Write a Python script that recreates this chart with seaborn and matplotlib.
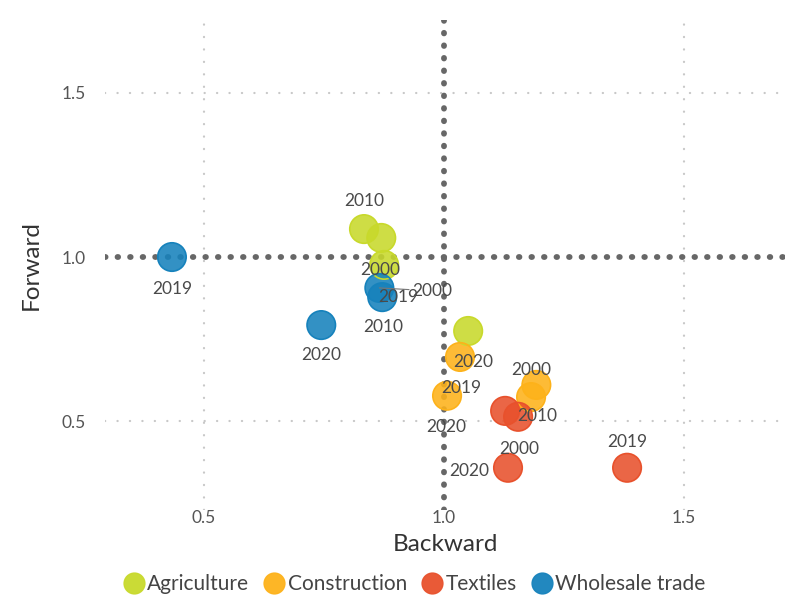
import matplotlib
matplotlib.use("Agg")
import matplotlib.pyplot as plt
import seaborn as sns
import pandas as pd
from matplotlib.lines import Line2D

industries = ["Agriculture"] * 4 + ["Construction"] * 4 + ["Textiles"] * 4 + ["Wholesale trade"] * 4
years = ["2000", "2010", "2019", "2020"] * 4
backward = [0.875, 0.833, 0.869, 1.050,
            1.192, 1.181, 1.033, 1.006,
            1.127, 1.154, 1.381, 1.133,
            0.865, 0.871, 0.433, 0.744]
forward = [0.976, 1.085, 1.058, 0.775,
           0.611, 0.574, 0.696, 0.578,
           0.532, 0.514, 0.359, 0.359,
           0.906, 0.878, 1.000, 0.793]
order = ["Agriculture", "Construction", "Textiles", "Wholesale trade"]
colors = ["#c8d92b", "#fdb21a", "#e8512c", "#1682bc"]

# label offsets in pixels (None = label hidden)
label_offsets = [(-4, -5), (0, 28), (17, -59), (5, -31),
                 (-5, 15), None, (1, -31), (-1, -31),
                 (14, -38), (19, 1), (0, 26), (-39, -3),
                 (53, -3), (1, -30), (0, -32), (0, -30)]

df = pd.DataFrame({"industry": industries, "year": years,
                   "Backward": backward, "Forward": forward})

sns.set_theme(style="white")
plt.rcParams["font.family"] = ["Lato", "DejaVu Sans"]

fig = plt.figure(figsize=(7.97, 5.97), dpi=100)
ax = fig.add_axes([0.132, 0.146, 0.853, 0.820])

ax.set_xlim(0.294, 1.710)
ax.set_ylim(0.231, 1.720)
ax.set_xticks([0.5, 1.0, 1.5])
ax.set_yticks([0.5, 1.0, 1.5])
ax.set_xticklabels(["0.5", "1.0", "1.5"])
ax.set_yticklabels(["0.5", "1.0", "1.5"])

grid_kw = dict(color="#c8c8c8", lw=1.6, linestyle=(0, (0.1, 5.5)),
               dash_capstyle="round", zorder=0)
for v in [0.5, 1.5]:
    ax.axvline(v, **grid_kw)
    ax.axhline(v, **grid_kw)

ref_kw = dict(color="#676767", lw=4.2, linestyle=(0, (0.1, 2.05)),
              dash_capstyle="round", zorder=1)
ax.axvline(1.0, **ref_kw)
ax.axhline(1.0, **ref_kw)

sns.scatterplot(data=df, x="Backward", y="Forward", hue="industry",
                hue_order=order, palette=colors, s=420, alpha=0.88,
                edgecolor=None, linewidth=0, ax=ax, legend=False, zorder=3)
# slightly darker rims
for ind, c in zip(order, colors):
    sub = df[df.industry == ind]
    ax.scatter(sub.Backward, sub.Forward, s=420, facecolor="none",
               edgecolor=c, linewidth=1.2, zorder=3)

for i, row in df.iterrows():
    off = label_offsets[i]
    if off is None:
        continue
    arrow = None
    if abs(off[0]) > 40:
        arrow = dict(arrowstyle="-", color="#777777", lw=0.8, shrinkA=0, shrinkB=0)
    ax.annotate(row.year, (row.Backward, row.Forward), xytext=off,
                textcoords="offset pixels", ha="center", va="center",
                fontsize=12.5, color="#4a4a4a", zorder=4, arrowprops=arrow)

for s in ax.spines.values():
    s.set_visible(False)
ax.tick_params(axis="x", length=0, labelsize=12.5, colors="#555555", pad=0)
ax.tick_params(axis="y", length=0, labelsize=12.5, colors="#555555", pad=14)
ax.set_xlabel("Backward", fontsize=17.5, color="#333333", labelpad=6)
ax.set_ylabel("Forward", fontsize=17.5, color="#333333", labelpad=14)

handles = [Line2D([0], [0], marker="o", linestyle="", markersize=15,
                  markerfacecolor=c, markeredgecolor=c, alpha=0.95) for c in colors]
fig.legend(handles, order, loc="center", bbox_to_anchor=(0.518, 0.022),
           ncol=4, frameon=False, fontsize=15, handletextpad=0.0,
           columnspacing=0.55, handlelength=1.3, labelcolor="#444444")

fig.savefig("out.png", dpi=100)
